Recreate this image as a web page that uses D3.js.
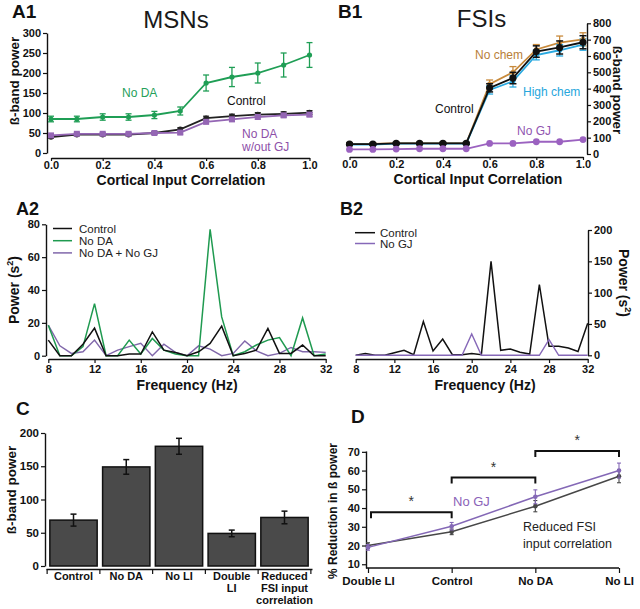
<!DOCTYPE html>
<html><head><meta charset="utf-8">
<script src="https://cdn.jsdelivr.net/npm/d3@7"></script>
<style>
body{margin:0;background:#fff}
svg text{font-family:"Liberation Sans",Arial,sans-serif}
</style>
</head><body>
<svg id="c" width="640" height="609"></svg>
<script>
// ---------- DATA ----------
const corr = [0,0.1,0.2,0.3,0.4,0.5,0.6,0.7,0.8,0.9,1.0];
const corrTicks = [0,0.2,0.4,0.6,0.8,1.0];
// A1 MSNs
const a1NoDA        = [85,85,90,90,95,105,175,190,200,220,245];
const a1NoDAErr     = [7,7,8,8,9,10,20,24,25,30,31];
const a1Control     = [40,46,46,46,50,59,87,92,96,98,101];
const a1ControlErr  = [3,3,3,3,3,4,5,5,5,5,5];
const a1NoDANoGJ    = [44,48,48,48,50,51,78,84,90,94,96];
const a1NoDANoGJErr = [3,3,3,3,3,4,5,5,5,5,5];
const a1YTicks = [0,50,100,150,200,250,300];
// B1 FSIs
const b1Control     = [60,60,65,65,65,65,405,465,627,652,684];
const b1ControlErr  = [5,5,5,5,5,5,25,35,35,40,40];
const b1NoChem      = [62,62,66,66,66,66,428,500,640,682,702];
const b1NoChemErr   = [5,5,5,5,5,5,25,35,30,40,40];
const b1HighChem    = [58,58,63,63,63,63,392,445,606,635,670];
const b1HighChemErr = [5,5,5,5,5,5,25,35,30,35,35];
const b1NoGJ        = [28,28,30,32,32,32,65,65,75,75,88];
const b1YTicks = [0,100,200,300,400,500,600,700,800];
// A2 / B2 spectra
const freq = [8,9,10,11,12,13,14,15,16,17,18,19,20,21,22,23,24,25,26,27,28,29,30,31,32];
const freqTicks = [8,12,16,20,24,28,32];
const a2Control = [9.5,0,0,7,16.8,0,0,1,1,14.5,3.4,2,0,2.4,7.5,18,0,1.4,3.4,16.6,1.4,1.4,6.5,0,0];
const a2NoDA    = [18.6,0,0,5.5,31.7,0,0,9.5,1,10.5,3.4,1,0,0,77,23.6,0,2.4,6.5,9.5,11,0,23,0,1];
const a2NoDANoGJ= [18.6,6,1.4,2.4,9.5,0,3.4,5.5,7.5,0,7,2,0,6,4,0,1.4,9,3,0,1.4,5,2.4,2.4,2];
const a2YTicks = [0,20,40,60,80];
const b2Control = [0,3,0,0,4,8,1,54,7,26,1,1,3,1,150,8,10,5,2,113,14.6,14.6,11.5,6,51];
const b2NoGJ    = [0,0,0,0,0,0,0,0,0,0,0,0,34,0,0,0,0,0,0,0,25,0,0,0,0];
const b2YTicks = [0,50,100,150,200];
// C bars
const cCats   = ["Control","No DA","No LI","Double LI","Reduced FSI input correlation"];
const cLabels = [["Control"],["No DA"],["No LI"],["Double","LI"],["Reduced","FSI input","correlation"]];
const cValues = [69,149,180,49,73];
const cErr    = [9,11,12,5,9.5];
const cYTicks = [0,50,100,150,200];
// D
const dCats = ["Double LI","Control","No DA","No LI"];
const dNoGJ = [19,30.3,46,60];
const dNoGJErr = [1.5,2,3.7,4];
const dReduced = [20,27.3,41,57];
const dReducedErr = [1.5,1.5,3,3.5];
const dYTicks = [10,20,30,40,50,60,70];
const dSig = [["Double LI","Control",37.7],["Control","No DA",56.3],["No DA","No LI",70.5]];

// ---------- HELPERS ----------
const svg = d3.select("#c");
const FONT = '"Liberation Sans",Arial,sans-serif';
function styleAxis(g, fs){
  g.attr("font-family",FONT).attr("font-size",fs).attr("font-weight","bold");
  g.select(".domain").attr("stroke","#111").attr("stroke-width",1.4);
  g.selectAll(".tick line").attr("stroke","#111").attr("stroke-width",1.2);
  g.selectAll(".tick text").attr("fill","#111");
  return g;
}
function txt(x,y,s,o={}){
  const t = svg.append("text").attr("x",x).attr("y",y).text(s)
    .attr("font-size",o.fs||12).attr("fill",o.fill||"#111")
    .attr("font-weight",o.fw||"normal").attr("text-anchor",o.anchor||"start");
  if(o.rot) t.attr("transform",`rotate(${o.rot},${x},${y})`);
  return t;
}
function errBars(g,xs,ys,errs,x,y,color,cap,w){
  xs.forEach((xv,i)=>{
    const X=x(xv), Y1=y(ys[i]-errs[i]), Y2=y(ys[i]+errs[i]);
    g.append("line").attr("x1",X).attr("x2",X).attr("y1",Y1).attr("y2",Y2).attr("stroke",color).attr("stroke-width",w);
    g.append("line").attr("x1",X-cap).attr("x2",X+cap).attr("y1",Y1).attr("y2",Y1).attr("stroke",color).attr("stroke-width",w);
    g.append("line").attr("x1",X-cap).attr("x2",X+cap).attr("y1",Y2).attr("y2",Y2).attr("stroke",color).attr("stroke-width",w);
  });
}
function line(g,xs,ys,x,y,color,w){
  g.append("path").datum(xs.map((v,i)=>[v,ys[i]]))
   .attr("d",d3.line().x(d=>x(d[0])).y(d=>y(d[1])))
   .attr("fill","none").attr("stroke",color).attr("stroke-width",w).attr("stroke-linejoin","miter");
}

// ---------- A1 ----------
{
  const x = d3.scaleLinear().domain([0,1]).range([51,309.5]);
  const y = d3.scaleLinear().domain([0,300]).range([153,33]);
  styleAxis(svg.append("g").attr("transform","translate(47,0)")
    .call(d3.axisLeft(y).tickValues(a1YTicks).tickSize(4).tickSizeOuter(0).tickPadding(2)),11);
  styleAxis(svg.append("g").attr("transform","translate(0,158)")
    .call(d3.axisBottom(x).tickValues(corrTicks).tickFormat(d3.format(".1f")).tickSize(3).tickSizeOuter(0).tickPadding(0)),11);
  const g = svg.append("g");
  const green="#1f9e55", purple="#9466b4";
  line(g,corr,a1NoDA,x,y,green,1.8);
  errBars(g,corr,a1NoDA,a1NoDAErr,x,y,green,3,1.3);
  g.selectAll(null).data(corr).enter().append("circle").attr("cx",d=>x(d)).attr("cy",(d,i)=>y(a1NoDA[i])).attr("r",2.6).attr("fill",green);
  line(g,corr,a1Control,x,y,"#222",1.8);
  errBars(g,corr,a1Control,a1ControlErr,x,y,"#222",3,1.2);
  g.selectAll(null).data(corr).enter().append("circle").attr("cx",d=>x(d)).attr("cy",(d,i)=>y(a1Control[i])).attr("r",2.8).attr("fill","#222");
  line(g,corr,a1NoDANoGJ,x,y,purple,1.8);
  errBars(g,corr,a1NoDANoGJ,a1NoDANoGJErr,x,y,purple,3,1.2);
  g.selectAll(null).data(corr).enter().append("rect").attr("x",d=>x(d)-3).attr("y",(d,i)=>y(a1NoDANoGJ[i])-3).attr("width",6).attr("height",6).attr("fill",purple);
  txt(12,18,"A1",{fs:19,fw:"bold"});
  txt(176,28,"MSNs",{fs:24,anchor:"middle",fill:"#1a1a1a"});
  txt(181,185,"Cortical Input Correlation",{fs:14,fw:"bold",anchor:"middle"});
  txt(19,81,"ß-band power",{fs:13.5,fw:"bold",anchor:"middle",rot:-90});
  txt(122,97,"No DA",{fs:12,fill:"#25a05a"});
  txt(227,105,"Control",{fs:12,fill:"#111"});
  txt(242,138,"No DA",{fs:12,fill:"#8d4fa8"});
  txt(242,151,"w/out GJ",{fs:12,fill:"#8d4fa8"});
}

// ---------- B1 ----------
{
  const x = d3.scaleLinear().domain([0,1]).range([349.5,583]);
  const y = d3.scaleLinear().domain([0,800]).range([154,23.3]);
  styleAxis(svg.append("g").attr("transform","translate(587,0)")
    .call(d3.axisRight(y).tickValues(b1YTicks).tickSize(4).tickSizeOuter(0).tickPadding(2)),11);
  styleAxis(svg.append("g").attr("transform","translate(0,157)")
    .call(d3.axisBottom(x).tickValues(corrTicks).tickFormat(d3.format(".1f")).tickSize(3).tickSizeOuter(0).tickPadding(0)),11);
  const g = svg.append("g");
  const orange="#c88a3c", cyan="#2aa9e0", purple="#9b62c0";
  line(g,corr,b1NoChem,x,y,orange,1.8);
  errBars(g,corr,b1NoChem,b1NoChemErr,x,y,orange,3.5,1.3);
  line(g,corr,b1HighChem,x,y,cyan,1.8);
  errBars(g,corr,b1HighChem,b1HighChemErr,x,y,cyan,3.5,1.3);
  g.selectAll(null).data(corr).enter().append("circle").attr("cx",d=>x(d)).attr("cy",(d,i)=>y(b1NoChem[i])).attr("r",2.5).attr("fill",orange);
  g.selectAll(null).data(corr).enter().append("circle").attr("cx",d=>x(d)).attr("cy",(d,i)=>y(b1HighChem[i])).attr("r",2.5).attr("fill",cyan);
  line(g,corr,b1Control,x,y,"#111",1.8);
  errBars(g,corr,b1Control,b1ControlErr,x,y,"#111",3.5,1.5);
  g.selectAll(null).data(corr).enter().append("circle").attr("cx",d=>x(d)).attr("cy",(d,i)=>y(b1Control[i])).attr("r",3.6).attr("fill","#111");
  line(g,corr,b1NoGJ,x,y,purple,1.8);
  g.selectAll(null).data(corr).enter().append("circle").attr("cx",d=>x(d)).attr("cy",(d,i)=>y(b1NoGJ[i])).attr("r",3.4).attr("fill",purple);
  txt(338,18,"B1",{fs:19,fw:"bold"});
  txt(481.5,27,"FSIs",{fs:24,anchor:"middle",fill:"#1a1a1a"});
  txt(478,184,"Cortical Input Correlation",{fs:14,fw:"bold",anchor:"middle"});
  txt(613,90,"ß-band power",{fs:13.5,fw:"bold",anchor:"middle",rot:90});
  txt(475,59,"No chem",{fs:12,fill:"#b8803a"});
  txt(523,96,"High chem",{fs:12,fill:"#27a6dc"});
  txt(435,113,"Control",{fs:12,fill:"#111"});
  txt(517,135,"No GJ",{fs:12,fill:"#9055b0"});
}

// ---------- A2 ----------
{
  const x = d3.scaleLinear().domain([8,32]).range([48.3,325.7]);
  const y = d3.scaleLinear().domain([0,80]).range([355.7,224.3]);
  styleAxis(svg.append("g").attr("transform","translate(46,0)")
    .call(d3.axisLeft(y).tickValues(a2YTicks).tickSize(4).tickSizeOuter(0).tickPadding(2)),11);
  styleAxis(svg.append("g").attr("transform","translate(0,359)")
    .call(d3.axisBottom(x).tickValues(freqTicks).tickSize(4).tickSizeOuter(0).tickPadding(2)),11);
  const g = svg.append("g");
  line(g,freq,a2NoDANoGJ,x,y,"#8067aa",1.4);
  line(g,freq,a2NoDA,x,y,"#1f9a50",1.5);
  line(g,freq,a2Control,x,y,"#111",1.5);
  txt(16,215,"A2",{fs:18,fw:"bold"});
  txt(187,390,"Frequency (Hz)",{fs:14,fw:"bold",anchor:"middle"});
  const t = txt(19,290,"Power (s",{fs:14,fw:"bold",anchor:"middle",rot:-90});
  t.append("tspan").attr("font-size",9).attr("dy",-6).text("2");
  t.append("tspan").attr("dy",6).text(")");
  const leg=[["Control","#111"],["No DA","#1f9a50"],["No DA + No GJ","#8067aa"]];
  leg.forEach((d,i)=>{
    const yy=228.5+i*12.2;
    svg.append("line").attr("x1",53).attr("x2",72).attr("y1",yy).attr("y2",yy).attr("stroke",d[1]).attr("stroke-width",1.5);
    txt(79,yy+4,d[0],{fs:11.5,fill:"#222"});
  });
}

// ---------- B2 ----------
{
  const x = d3.scaleLinear().domain([8,32]).range([355.7,587.7]);
  const y = d3.scaleLinear().domain([0,200]).range([355.3,230]);
  styleAxis(svg.append("g").attr("transform","translate(588,0)")
    .call(d3.axisRight(y).tickValues(b2YTicks).tickSize(4).tickSizeOuter(0).tickPadding(2)),11);
  styleAxis(svg.append("g").attr("transform","translate(0,359)")
    .call(d3.axisBottom(x).tickValues(freqTicks).tickSize(4).tickSizeOuter(0).tickPadding(2)),11);
  const g = svg.append("g");
  line(g,freq,b2Control,x,y,"#111",1.5);
  line(g,freq,b2NoGJ,x,y,"#8668b8",1.4);
  txt(340,215,"B2",{fs:18,fw:"bold"});
  txt(485,390,"Frequency (Hz)",{fs:14,fw:"bold",anchor:"middle"});
  const t = txt(619,283,"Power (s",{fs:14,fw:"bold",anchor:"middle",rot:90});
  t.append("tspan").attr("font-size",9).attr("dy",-6).text("2");
  t.append("tspan").attr("dy",6).text(")");
  const leg=[["Control","#111"],["No GJ","#8668b8"]];
  leg.forEach((d,i)=>{
    const yy=232.7+i*10.8;
    svg.append("line").attr("x1",355).attr("x2",375).attr("y1",yy).attr("y2",yy).attr("stroke",d[1]).attr("stroke-width",1.5);
    txt(380,yy+4,d[0],{fs:11.5,fill:"#222"});
  });
}

// ---------- C ----------
{
  const x = d3.scaleBand().domain(cCats).range([46,312]).paddingInner(0.103).paddingOuter(0.073);
  const y = d3.scaleLinear().domain([0,200]).range([566,433]);
  styleAxis(svg.append("g").attr("transform","translate(45,0)")
    .call(d3.axisLeft(y).tickValues(cYTicks).tickSize(4).tickSizeOuter(0).tickPadding(2)),11.5);
  const ax = svg.append("g").attr("transform","translate(0,569)")
    .call(d3.axisBottom(x).tickSize(0).tickSizeOuter(0).tickFormat(""));
  styleAxis(ax,11);
  const half = x.step()*x.paddingInner()/2;
  const bounds = cCats.map(c=>x(c)-half).concat([x(cCats[cCats.length-1])+x.bandwidth()+half]);
  ax.selectAll(".bt").data(bounds).enter().append("line").attr("x1",d=>d).attr("x2",d=>d).attr("y1",0).attr("y2",5).attr("stroke","#111").attr("stroke-width",1.2);
  const g = svg.append("g");
  g.selectAll("rect").data(cCats).enter().append("rect")
    .attr("x",d=>x(d)).attr("width",x.bandwidth())
    .attr("y",(d,i)=>y(cValues[i])).attr("height",(d,i)=>y(0)-y(cValues[i]))
    .attr("fill","#4a4a4a").attr("stroke","#111").attr("stroke-width",1.5);
  const xc = cCats.map(c=>x(c)+x.bandwidth()/2);
  errBars(g,xc,cValues,cErr,d=>d,y,"#111",3,1.5);
  cLabels.forEach((lines,i)=>{
    lines.forEach((s,j)=>{
      txt(xc[i],580+j*12,s,{fs:11,fw:"bold",anchor:"middle"});
    });
  });
  txt(16,415,"C",{fs:19,fw:"bold"});
  txt(16,490,"ß-band power",{fs:13.5,fw:"bold",anchor:"middle",rot:-90});
}

// ---------- D ----------
{
  const x = d3.scalePoint().domain(dCats).range([368,619]);
  const y = d3.scaleLinear().domain([8,70.5]).range([568,450.9]);
  styleAxis(svg.append("g").attr("transform","translate(366,0)")
    .call(d3.axisLeft(y).tickValues(dYTicks).tickSize(4).tickSizeOuter(0).tickPadding(2)),11);
  const ax = svg.append("g").attr("transform","translate(0,568)")
    .call(d3.axisBottom(x).tickSize(5).tickSizeOuter(0).tickPadding(4));
  ax.select(".domain").attr("d","M366,0H619");
  styleAxis(ax,11.5);
  const g = svg.append("g");
  const purple="#8468b6", dark="#474747";
  line(g,dCats,dReduced,x,y,dark,1.5);
  errBars(g,dCats,dReduced,dReducedErr,x,y,dark,2,1.1);
  g.selectAll(null).data(dCats).enter().append("circle").attr("cx",d=>x(d)).attr("cy",(d,i)=>y(dReduced[i])).attr("r",2.3).attr("fill",dark);
  line(g,dCats,dNoGJ,x,y,purple,1.5);
  errBars(g,dCats,dNoGJ,dNoGJErr,x,y,purple,2,1.1);
  g.selectAll(null).data(dCats).enter().append("circle").attr("cx",d=>x(d)).attr("cy",(d,i)=>y(dNoGJ[i])).attr("r",2.3).attr("fill",purple);
  dSig.forEach(([a,b,v])=>{
    const x1=x(a)+(a==="Double LI"?3:0), x2=x(b), Y=y(v);
    g.append("path").attr("d",`M${x1},${Y+6}V${Y}H${x2}V${Y+6}`).attr("fill","none").attr("stroke","#111").attr("stroke-width",2);
    txt((x1+x2)/2,Y-6,"*",{fs:14,anchor:"middle",fill:"#333"});
  });
  txt(351,423,"D",{fs:19,fw:"bold"});
  txt(337,511,"% Reduction in ß power",{fs:12,fw:"bold",anchor:"middle",rot:-90});
  txt(453,506,"No GJ",{fs:13,fill:"#8a62b8"});
  txt(523,531,"Reduced FSI",{fs:12.5,fill:"#222"});
  txt(523,548,"input correlation",{fs:12.5,fill:"#222"});
}
</script>
</body></html>
